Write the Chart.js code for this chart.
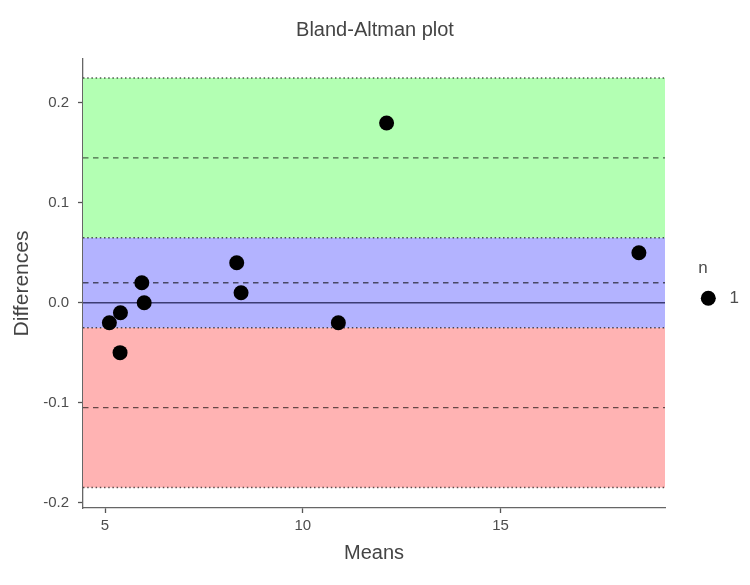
<!DOCTYPE html>
<html>
<head>
<meta charset="utf-8">
<script src="https://cdn.jsdelivr.net/npm/chart.js@4"></script>
<style>
html,body{margin:0;padding:0;background:#fff;}
#wrap{width:750px;height:585px;}
</style>
</head>
<body>
<div id="wrap"><canvas id="graph" width="750" height="585"></canvas></div>
<script>

// data
const means=[5.11,5.39,5.38,5.93,5.99,8.33,8.44,10.90,12.12,18.50];
const diffs=[-0.02,-0.01,-0.05,0.02,0.00,0.04,0.01,-0.02,0.18,0.05];

const meanDiff=0.02;
const meanCI=[-0.025,0.065];
const upperLoA=0.145;
const upperCI=[0.065,0.225];
const lowerLoA=-0.105;
const lowerCI=[-0.185,-0.025];

const xTicks=[5,10,15];
const yTicks=[-0.2,-0.1,0.0,0.1,0.2];

const xMin=4.443, xMax=19.16;
const yMin=-0.2055, yMax=0.244;

const FONT="'Liberation Sans', Arial, sans-serif";
const TXT="#4d4d4d";

function hline(y,opts){
return Object.assign({
type:'line',
data:[{x:xMin,y:y},{x:xMax,y:y}],
showLine:true,
pointRadius:0,
pointHoverRadius:0,
borderWidth:1.3,
fill:false
},opts);
}

const datasets=[];

// points on top
datasets.push({
label:"1",
data:means.map((m,i)=>({x:m,y:diffs[i]})),
backgroundColor:"#000",
borderWidth:0,
pointRadius:7.5,
pointHoverRadius:7.5,
order:0
});

// mean and limits of agreement
[upperLoA,meanDiff,lowerLoA].forEach(v=>{
datasets.push(hline(v,{borderColor:"rgba(0,0,0,0.6)",borderDash:[5.5,4.5],order:1}));
});
datasets.push(hline(0,{borderColor:"rgba(20,20,70,0.75)",order:1}));

// confidence interval edges, dotted
[...new Set([...upperCI,...meanCI,...lowerCI])].forEach(v=>{
datasets.push(hline(v,{borderColor:"rgba(0,0,0,0.65)",borderDash:[1.5,2.7],borderWidth:1.6,order:2}));
});

// shaded confidence bands
[[upperCI,"#b3ffb3"],[meanCI,"#b3b3ff"],[lowerCI,"#ffb3b3"]].forEach(([ci,col])=>{
datasets.push(hline(ci[1],{borderColor:"transparent",backgroundColor:col,fill:'+1',order:3}));
datasets.push(hline(ci[0],{borderColor:"transparent",order:3}));
});

const legendPlugin={
id:'sideLegend',
afterDraw(c){
const ctx=c.ctx;
ctx.save();
ctx.fillStyle=TXT;
ctx.font="17px "+FONT;
ctx.textAlign="center";
ctx.textBaseline="middle";
ctx.fillText("n",703,268);
ctx.beginPath();
ctx.arc(708.3,298.3,7.5,0,Math.PI*2);
ctx.fillStyle="#000";
ctx.fill();
ctx.fillStyle=TXT;
ctx.textAlign="left";
ctx.fillText(datasets[0].label,729.5,298.5);
ctx.restore();
}
};

new Chart(document.getElementById("graph"),{
type:'scatter',
data:{datasets:datasets},
plugins:[legendPlugin],
options:{
responsive:false,
animation:false,
events:[],
layout:{padding:0},
plugins:{
legend:{display:false},
tooltip:{enabled:false},
title:{
display:true,
text:"Bland-Altman plot",
color:"#444",
font:{family:FONT,size:20,weight:'normal'},
padding:{top:18,bottom:17}
}
},
scales:{
x:{
type:'linear',
min:xMin,max:xMax,
afterBuildTicks:s=>{s.ticks=xTicks.map(v=>({value:v}));},
afterFit:s=>{s.height=77;},
ticks:{color:TXT,font:{family:FONT,size:15},padding:4,callback:v=>String(v)},
grid:{drawOnChartArea:false,drawTicks:true,tickLength:5,tickColor:"#555",tickWidth:1.3},
border:{color:"#666",width:1.3},
title:{display:true,text:"Means",color:"#444",font:{family:FONT,size:20},padding:{top:0,bottom:20}}
},
y:{
min:yMin,max:yMax,
afterBuildTicks:s=>{s.ticks=yTicks.map(v=>({value:v}));},
afterFit:s=>{s.width=83;},
ticks:{color:TXT,font:{family:FONT,size:15},padding:9,callback:v=>Number(v).toFixed(1)},
grid:{drawOnChartArea:false,drawTicks:true,tickLength:5,tickColor:"#555",tickWidth:1.3},
border:{color:"#666",width:1.3},
title:{display:true,text:"Differences",color:"#444",font:{family:FONT,size:21},padding:{top:10,bottom:0}}
},
// empty right scale keeps room for the legend
side:{
type:'linear',
position:'right',
display:true,
afterFit:s=>{s.width=85;},
ticks:{display:false},
grid:{display:false},
border:{display:false}
}
}
}
});

</script>
</body>
</html>
